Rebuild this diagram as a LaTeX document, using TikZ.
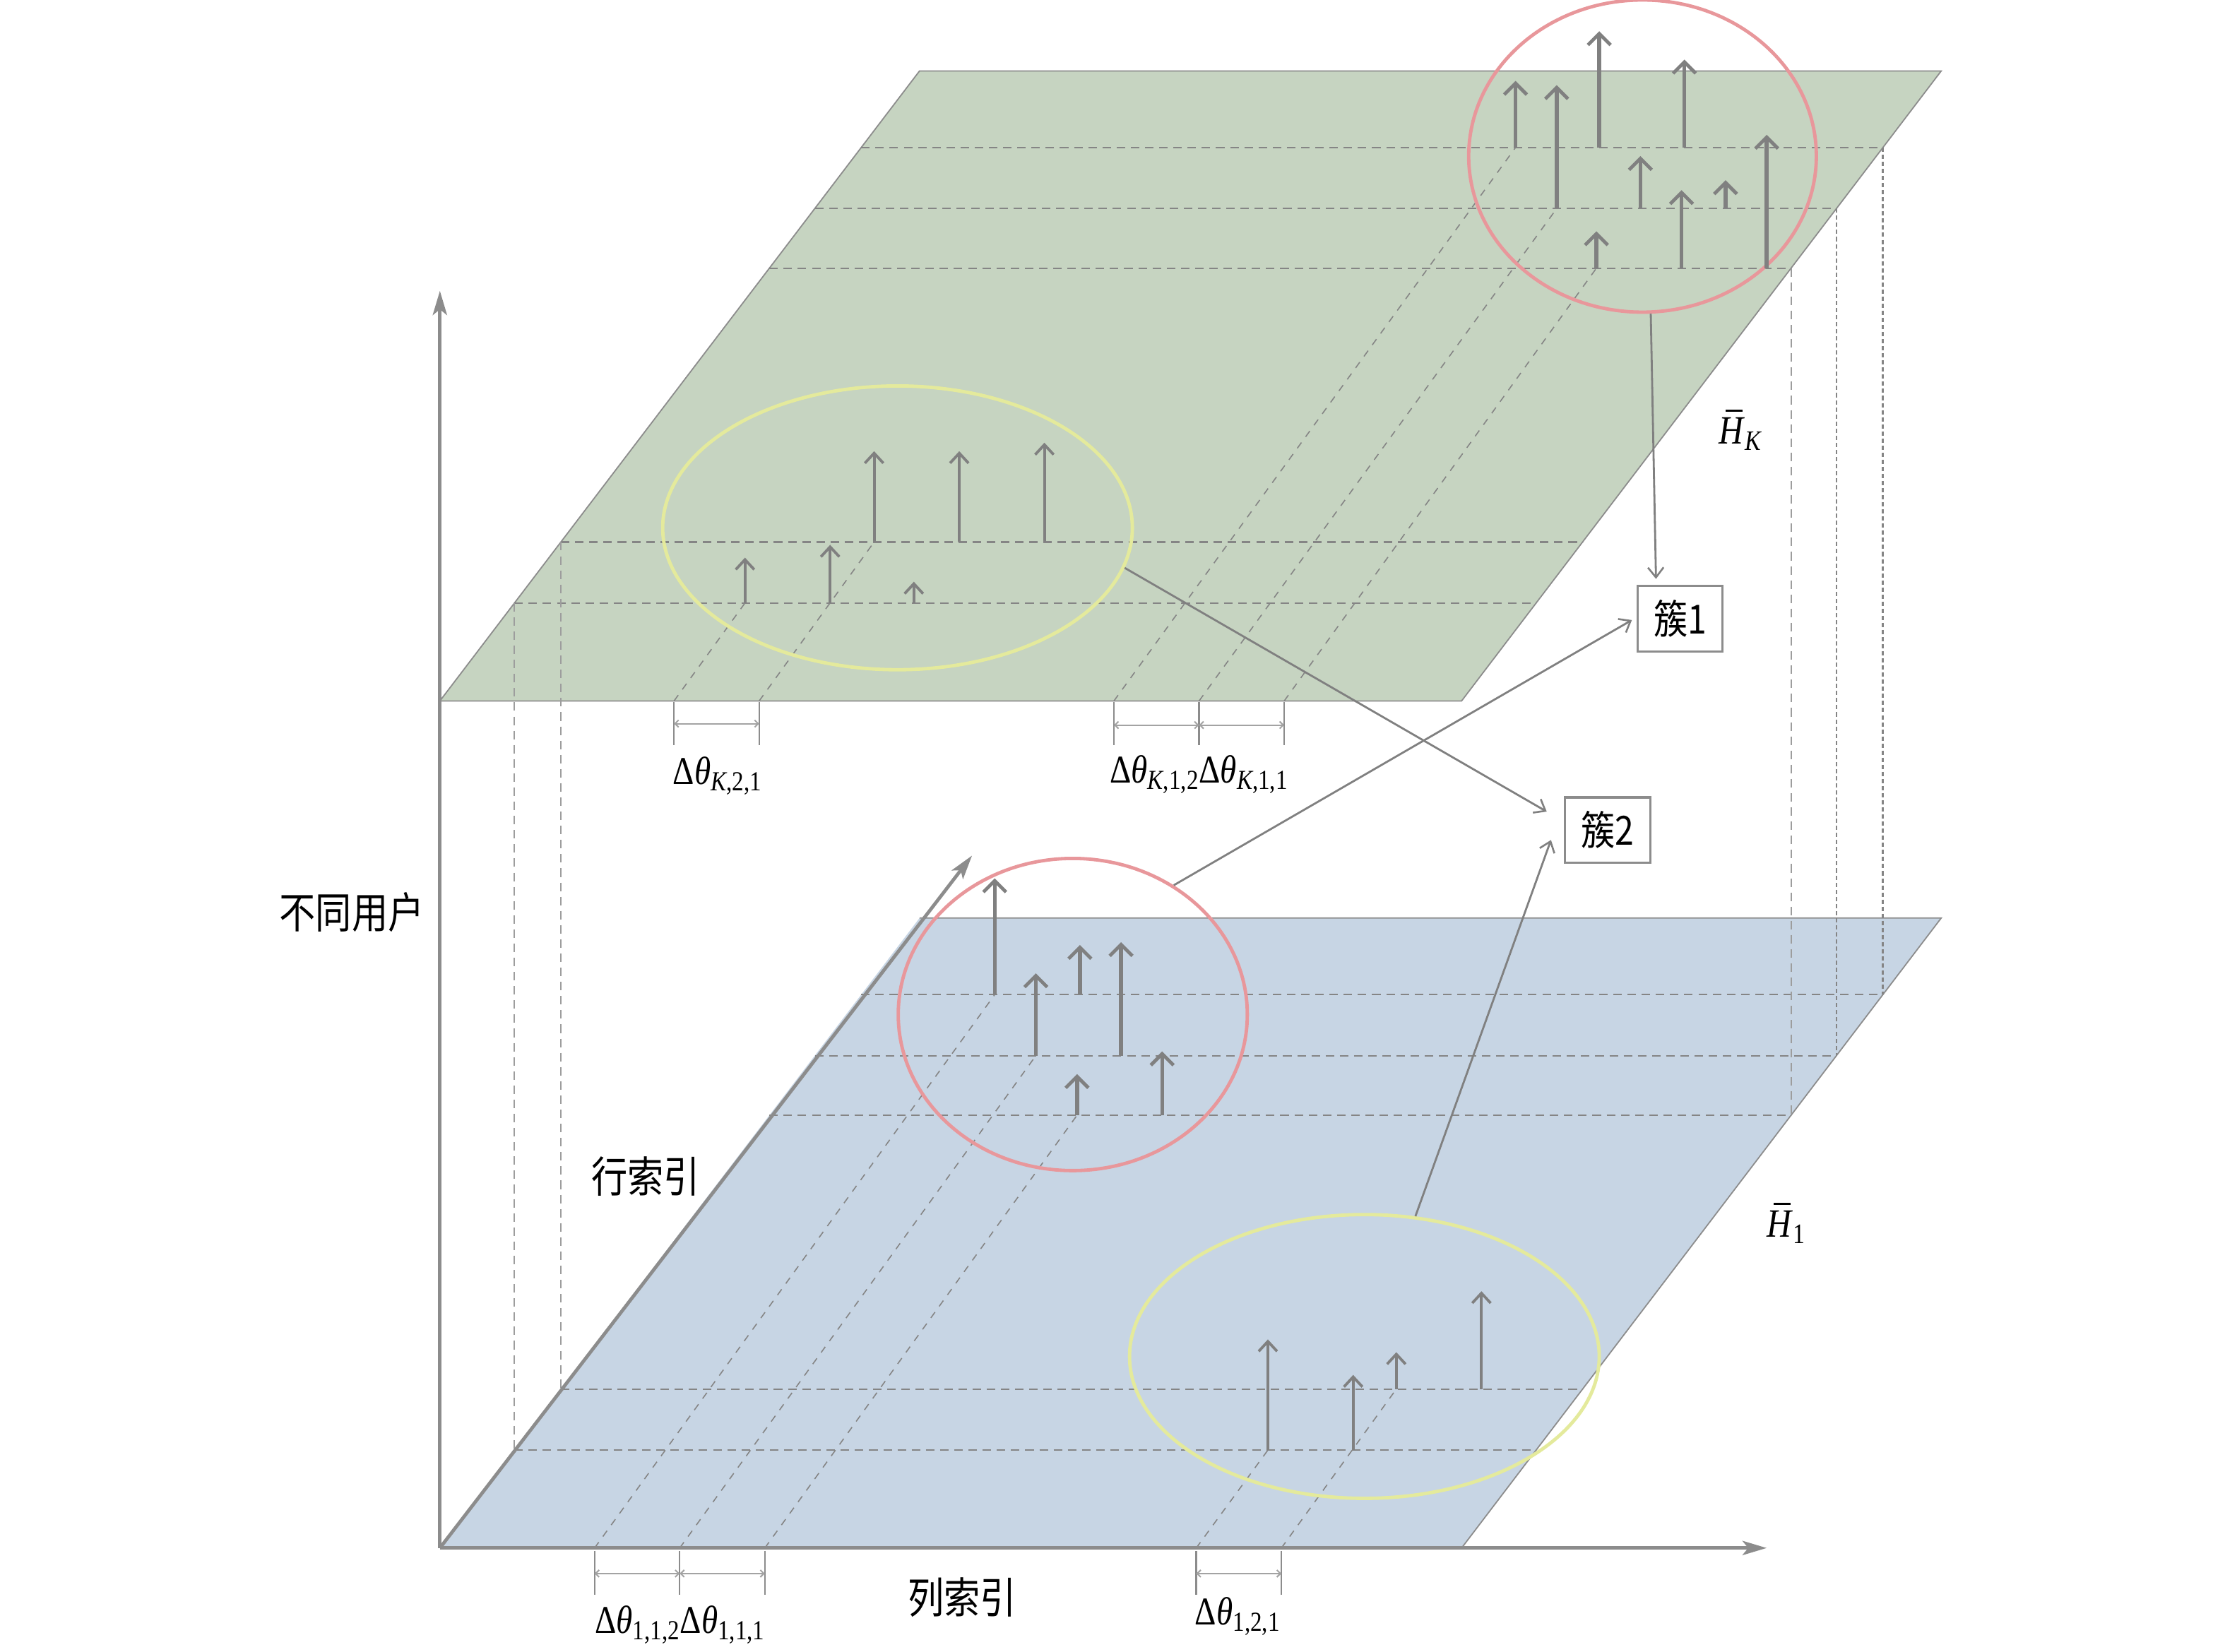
\documentclass[tikz,border=0pt]{standalone}
\usepackage{fontspec}
\setmainfont{Liberation Serif}
\newfontfamily\cjk{Noto Sans CJK SC}
\usetikzlibrary{arrows.meta,shapes.geometric}
\definecolor{planegreen}{HTML}{C6D4C1}
\definecolor{planeblue}{HTML}{C7D5E4}
\definecolor{edgegray}{HTML}{8C8C8C}
\definecolor{gridgray}{HTML}{858585}
\definecolor{spikegray}{HTML}{808080}
\definecolor{clred}{HTML}{E8979B}
\definecolor{clyellow}{HTML}{E4EA9C}
\newcommand\dth[1]{Δ\textit{θ}\textsubscript{#1}}
\newcommand\tall[1]{\scalebox{1}[1.18]{#1}}
\tikzset{
  plane/.style={draw=edgegray, line width=0.9pt},
  rowline/.style={draw=gridgray, line width=1.1pt, dash pattern=on 6pt off 4pt},
  diagline/.style={draw=gridgray, line width=0.8pt, dash pattern=on 5pt off 5pt},
  vdashline/.style={draw=gridgray!80, line width=0.9pt, dash pattern=on 6pt off 4pt},
  vdotline/.style={draw=gridgray, line width=1.2pt, dash pattern=on 3pt off 2pt},
  spike/.style={draw=spikegray, line width=2.7pt, -{Straight Barb[length=8pt,width=16pt,line width=2.4pt]}},
  spikethin/.style={draw=spikegray, line width=2pt, -{Straight Barb[length=7pt,width=13pt,line width=1.9pt]}},
  axisline/.style={draw=edgegray, line width=2.4pt, -{Stealth[length=17pt,width=10pt,inset=4pt]}},
  linkline/.style={draw=spikegray, line width=1.4pt, -{Straight Barb[length=7pt,width=11pt,line width=1.3pt]}},
  tick/.style={draw=edgegray, line width=1.2pt},
  span/.style={draw=edgegray!80, line width=1pt, {Straight Barb[length=2.5pt,width=5pt]}-{Straight Barb[length=2.5pt,width=5pt]}},
  cluster/.style={ellipse, inner sep=0pt, line width=2.4pt},
  clusterbox/.style={draw=edgegray, line width=1.6pt, fill=white, minimum width=60pt, minimum height=46pt, inner sep=0pt, font=\cjk\fontsize{24}{24}\selectfont},
  cjklabel/.style={font=\cjk\fontsize{25.5}{25.5}\selectfont, inner sep=0pt},
  mathlabel/.style={font=\fontsize{23.5}{23.5}\selectfont, inner sep=0pt},
  barline/.style={draw=black, line width=1.3pt},
}
\begin{document}
\begin{tikzpicture}[x=1pt,y=-1pt]
\useasboundingbox (0,0) rectangle (1568,1164);

% ---------- bottom plane ----------
\fill[planeblue] (310,1091) -- (1030,1091) -- (1368,647) -- (648,647) -- cycle;
\draw[plane] (310,1091) -- (1030,1091) -- (1368,647) -- (648,647);
% ---------- top plane ----------
\fill[planegreen] (310,494) -- (1030,494) -- (1368,50) -- (648,50) -- cycle;
\draw[plane] (310,494) -- (1030,494) -- (1368,50) -- (648,50) -- cycle;

% rows (both planes)
\foreach \dy in {0,597}{
  \begin{scope}[shift={(0,\dy)}]
    \draw[rowline] (606.9,104) -- (1326.9,104);
    \draw[rowline] (574.2,147) -- (1294.2,147);
    \draw[rowline] (542.2,189) -- (1262.2,189);
    \draw[rowline] (395.3,382) -- (1115.3,382);
    \draw[rowline] (362.5,425) -- (1082.5,425);
  \end{scope}
}
% diagonals top plane
\draw[diagline] (475,494) -- (525,425);
\draw[diagline] (535,494) -- (616,382);
\draw[diagline] (785,494) -- (1068,104);
\draw[diagline] (845,494) -- (1097,147);
\draw[diagline] (905,494) -- (1125,189);
% diagonals bottom plane
\draw[diagline] (419,1091) -- (701,701);
\draw[diagline] (479,1091) -- (730,744);
\draw[diagline] (539,1091) -- (759,786);
\draw[diagline] (843,1091) -- (893.5,1022);
\draw[diagline] (903,1091) -- (984,979);

% vertical projections
\draw[vdashline] (395.3,382) -- (395.3,979);
\draw[vdashline] (362.5,425) -- (362.5,1022);
\draw[vdotline] (1326.9,104) -- (1326.9,701);
\draw[vdotline] (1294.2,147) -- (1294.2,744);
\draw[vdashline] (1262.2,189) -- (1262.2,786);

% axes
\coordinate (O) at (310,1091);
\coordinate (zend) at (310,205);
\coordinate (xend) at (1245,1091);
\coordinate (yend) at (685,603);
\draw[axisline] (O) -- (zend);
\draw[axisline] (O) -- (xend);
\draw[axisline] (O) -- (yend);

% cluster ellipses
\node[cluster, draw=clyellow, minimum width=331pt, minimum height=200pt] (ey1) at (632.5,372) {};
\node[cluster, draw=clred, minimum width=245pt, minimum height=220pt] (er1) at (1157.5,110) {};
\node[cluster, draw=clred, minimum width=246pt, minimum height=220pt] (er2) at (756,715) {};
\node[cluster, draw=clyellow, minimum width=331pt, minimum height=200pt] (ey2) at (961.5,956) {};

% spikes top-right (red)
\draw[spike] (1068,104) -- (1068,57);
\draw[spike] (1097,147) -- (1097,60);
\draw[spike] (1127,104) -- (1127,22);
\draw[spike] (1187,104) -- (1187,42);
\draw[spike] (1156,147) -- (1156,110);
\draw[spike] (1185,189) -- (1185,134);
\draw[spike] (1216,147) -- (1216,127);
\draw[spike] (1245,189) -- (1245,95);
\draw[spike] (1125,189) -- (1125,163);
% spikes top-left (yellow)
\draw[spikethin] (525,425) -- (525,393);
\draw[spikethin] (585,425) -- (585,384);
\draw[spikethin] (644,425) -- (644,410);
\draw[spikethin] (616,382) -- (616,318);
\draw[spikethin] (676,382) -- (676,318);
\draw[spikethin] (736,382) -- (736,312);
% spikes bottom-left (red)
\draw[spike] (701,701) -- (701,619);
\draw[spike] (730,744) -- (730,686);
\draw[spike] (761,701) -- (761,666);
\draw[spike] (790,744) -- (790,664);
\draw[spike] (759,786) -- (759,757);
\draw[spike] (819,786) -- (819,741);
% spikes bottom-right (yellow)
\draw[spikethin] (893.5,1022) -- (893.5,944);
\draw[spikethin] (953.6,1022) -- (953.6,969);
\draw[spikethin] (984,979) -- (984,953);
\draw[spikethin] (1044,979) -- (1044,910);

% cluster boxes
\node[clusterbox] (c1) at (1184,436) {\tall{簇1}};
\node[clusterbox] (c2) at (1133,585) {\tall{簇2}};
\coordinate (c1top) at (1167,408);
\coordinate (c1left) at (1150,437);
\coordinate (c2left) at (1090,572);
\coordinate (c2low) at (1093,592);
\draw[linkline] (er1.-87) -- (c1top);
\draw[linkline] (er2.52.7) -- (c1left);
\draw[linkline] (ey1.-10.8) -- (c2left);
\draw[linkline] (ey2.70) -- (c2low);

% interval brackets top
\draw[tick] (475,495) -- (475,525);
\draw[tick] (535,495) -- (535,525);
\draw[span] (475,510) -- (535,510);
\draw[tick] (785,495) -- (785,525);
\draw[tick] (845,495) -- (845,525);
\draw[tick] (905,495) -- (905,525);
\draw[span] (785,511) -- (845,511);
\draw[span] (845,511) -- (905,511);
% interval brackets bottom
\draw[tick] (419,1093) -- (419,1124);
\draw[tick] (479,1093) -- (479,1124);
\draw[tick] (539,1093) -- (539,1124);
\draw[span] (419,1109) -- (479,1109);
\draw[span] (479,1109) -- (539,1109);
\draw[tick] (843,1093) -- (843,1124);
\draw[tick] (903,1093) -- (903,1124);
\draw[span] (843,1109) -- (903,1109);

% labels
\node[mathlabel, anchor=west] (lk21) at (474,547) {\tall{\dth{\textit{K},2,1}}};
\node[mathlabel, anchor=west] (lk1) at (782,546) {\tall{\dth{\textit{K},1,2}\dth{\textit{K},1,1}}};
\node[mathlabel, anchor=west] (l11) at (419,1145) {\tall{\dth{1,1,2}\dth{1,1,1}}};
\node[mathlabel, anchor=west] (l121) at (842,1139) {\tall{\dth{1,2,1}}};
\node[mathlabel, font=\fontsize{24}{24}\selectfont, anchor=west] (hk) at (1211,306) {\tall{\textit{H}\textsubscript{\textit{K}}}};
\node[mathlabel, font=\fontsize{24}{24}\selectfont, anchor=west] (h1) at (1245,865) {\tall{\textit{H}\textsubscript{1}}};
\draw[barline] ([shift={(5pt,5pt)}]hk.north west) -- ([shift={(17pt,5pt)}]hk.north west);
\draw[barline] ([shift={(5pt,5pt)}]h1.north west) -- ([shift={(17pt,5pt)}]h1.north west);
\node[cjklabel] (lz) at (248,643) {\tall{不同用户}};
\node[cjklabel] (ly) at (455,829) {\tall{行索引}};
\node[cjklabel] (lx) at (678,1126) {\tall{列索引}};
\end{tikzpicture}
\end{document}
